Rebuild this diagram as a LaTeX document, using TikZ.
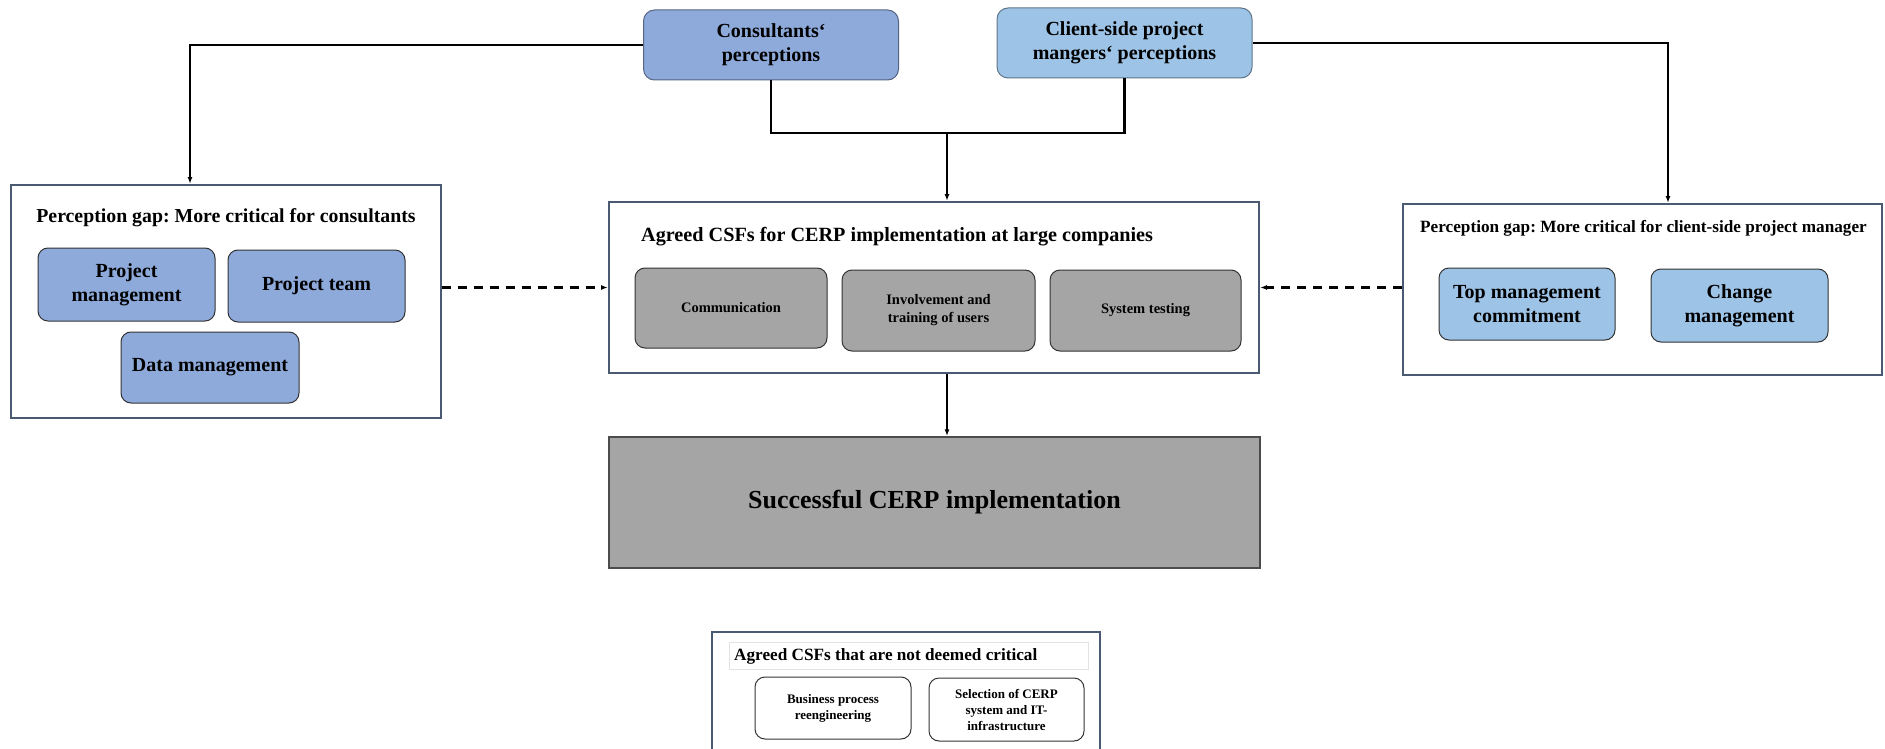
\documentclass[tikz,border=0pt]{standalone}
\usepackage{fontspec}
\setmainfont{Liberation Serif}
\usepackage{xcolor}
\usetikzlibrary{arrows.meta}
\definecolor{consblue}{HTML}{8EAADB}
\definecolor{clientblue}{HTML}{9DC3E6}
\definecolor{csfgray}{HTML}{A5A5A5}
\definecolor{frameslate}{HTML}{4A5A73}
\definecolor{stripgray}{HTML}{E3E3E3}
\frenchspacing
\tikzset{
    Frame/.style = {draw=frameslate,line width=2pt,fill=white,inner sep=0pt},
    Perc/.style = {draw=#1!60!black,fill=#1,rounded corners=11pt,line width=1pt,
                   align=center,inner sep=0pt,font=\bfseries\fontsize{20}{24}\selectfont},
    Gap/.style = {draw=black!80,fill=#1,rounded corners=10pt,line width=1pt,
                  align=center,inner sep=0pt,font=\bfseries\fontsize{20}{24}\selectfont},
    Csf/.style = {draw=black!80,fill=csfgray,rounded corners=10pt,line width=1pt,
                  align=center,inner sep=0pt,font=\bfseries\fontsize{14.5}{18}\selectfont},
    Minor/.style = {draw=black!80,fill=white,rounded corners=10pt,line width=1pt,
                    align=center,inner sep=0pt,font=\bfseries\fontsize{13}{16}\selectfont},
    Link/.style = {line width=2.4pt,-{Latex[length=7pt,width=5pt]}}
}
\begin{document}
\begin{tikzpicture}[x=1pt,y=-1pt]
\useasboundingbox (0,0) rectangle (1885,749);
% perceptions
\node[Perc=consblue,minimum width=255pt,minimum height=70pt] (cons) at (771,45) {Consultants‘\\perceptions};
\node[Perc=clientblue,minimum width=255pt,minimum height=70pt] (client) at (1124.5,43) {Client-side project\\mangers‘ perceptions};
% left gap
\node[Frame,minimum width=430pt,minimum height=233pt] (gapL) at (226,301.5) {};
\node[font=\bfseries\fontsize{19.8}{22}\selectfont] (titleL) at (226,218) {Perception gap: More critical for consultants};
\node[Gap=consblue,minimum width=177pt,minimum height=73pt] (pm) at (126.5,284.5) {Project\\management};
\node[Gap=consblue,minimum width=177pt,minimum height=72pt] (pt) at (316.5,286) {Project team};
\node[Gap=consblue,minimum width=178pt,minimum height=71pt] (dm) at (210,367.5) {Data management};
% agreed CSFs
\node[Frame,minimum width=650pt,minimum height=171pt] (agreed) at (934,287.5) {};
\node[anchor=west,inner sep=0pt,font=\bfseries\fontsize{20.2}{22}\selectfont] (titleC) at (641,237) {Agreed CSFs for CERP implementation at large companies};
\node[Csf,minimum width=192pt,minimum height=80pt] (comm) at (731,308) {Communication};
\node[Csf,minimum width=193pt,minimum height=81pt] (inv) at (938.5,310.5) {Involvement and\\training of users};
\node[Csf,minimum width=191pt,minimum height=81pt] (sys) at (1145.5,310.5) {System testing};
% right gap
\node[Frame,minimum width=479pt,minimum height=171pt] (gapR) at (1642.5,289.5) {};
\node[font=\bfseries\fontsize{17.2}{19}\selectfont] (titleR) at (1643.5,228) {Perception gap: More critical for client-side project manager};
\node[Gap=clientblue,minimum width=176pt,minimum height=72pt] (top) at (1527,304) {Top management\\commitment};
\node[Gap=clientblue,minimum width=177pt,minimum height=73pt] (chg) at (1739.5,305.5) {Change\\management};
% outcome
\node[draw=black!70,line width=1.5pt,fill=csfgray,minimum width=651pt,minimum height=131pt,
      font=\bfseries\fontsize{26}{30}\selectfont] (succ) at (934.5,502.5) {Successful CERP implementation};
% not deemed critical
\node[minimum width=388pt,minimum height=117pt,inner sep=0pt] (notcrit) at (906,690.5) {};
\draw[frameslate,line width=2pt] (notcrit.south west) -- (notcrit.north west) -- (notcrit.north east) -- (notcrit.south east);
\node[draw=stripgray,line width=0.8pt,minimum width=359pt,minimum height=27pt,inner sep=0pt] (strip) at (908.5,655.5) {};
\node[anchor=west,inner sep=0pt,font=\bfseries\fontsize{17.2}{19}\selectfont] (titleN) at (734,656) {Agreed CSFs that are not deemed critical};
\node[Minor,minimum width=156pt,minimum height=62pt] (bpr) at (833,708) {Business process\\reengineering};
\node[Minor,minimum width=155pt,minimum height=63pt] (sel) at (1006.5,709.5) {Selection of CERP\\system and IT-\\infrastructure};
% connectors
\coordinate (mid) at (947,133);
\draw[Link] (cons.west) -| ([xshift=-36pt]gapL.north);
\draw[Link] (client.east) -| ([xshift=25.5pt]gapR.north);
\draw[line width=2.4pt] (cons.south) |- (mid) -| (client.south);
\draw[Link] (mid) -- (mid |- agreed.north);
\draw[Link] (mid |- agreed.south) -- (mid |- succ.north);
\draw[Link,dash pattern=on 9pt off 7pt] (gapL.east |- agreed.west) -- (agreed.west);
\draw[Link,dash pattern=on 9pt off 7pt] (gapR.west |- agreed.east) -- (agreed.east);
\end{tikzpicture}
\end{document}
